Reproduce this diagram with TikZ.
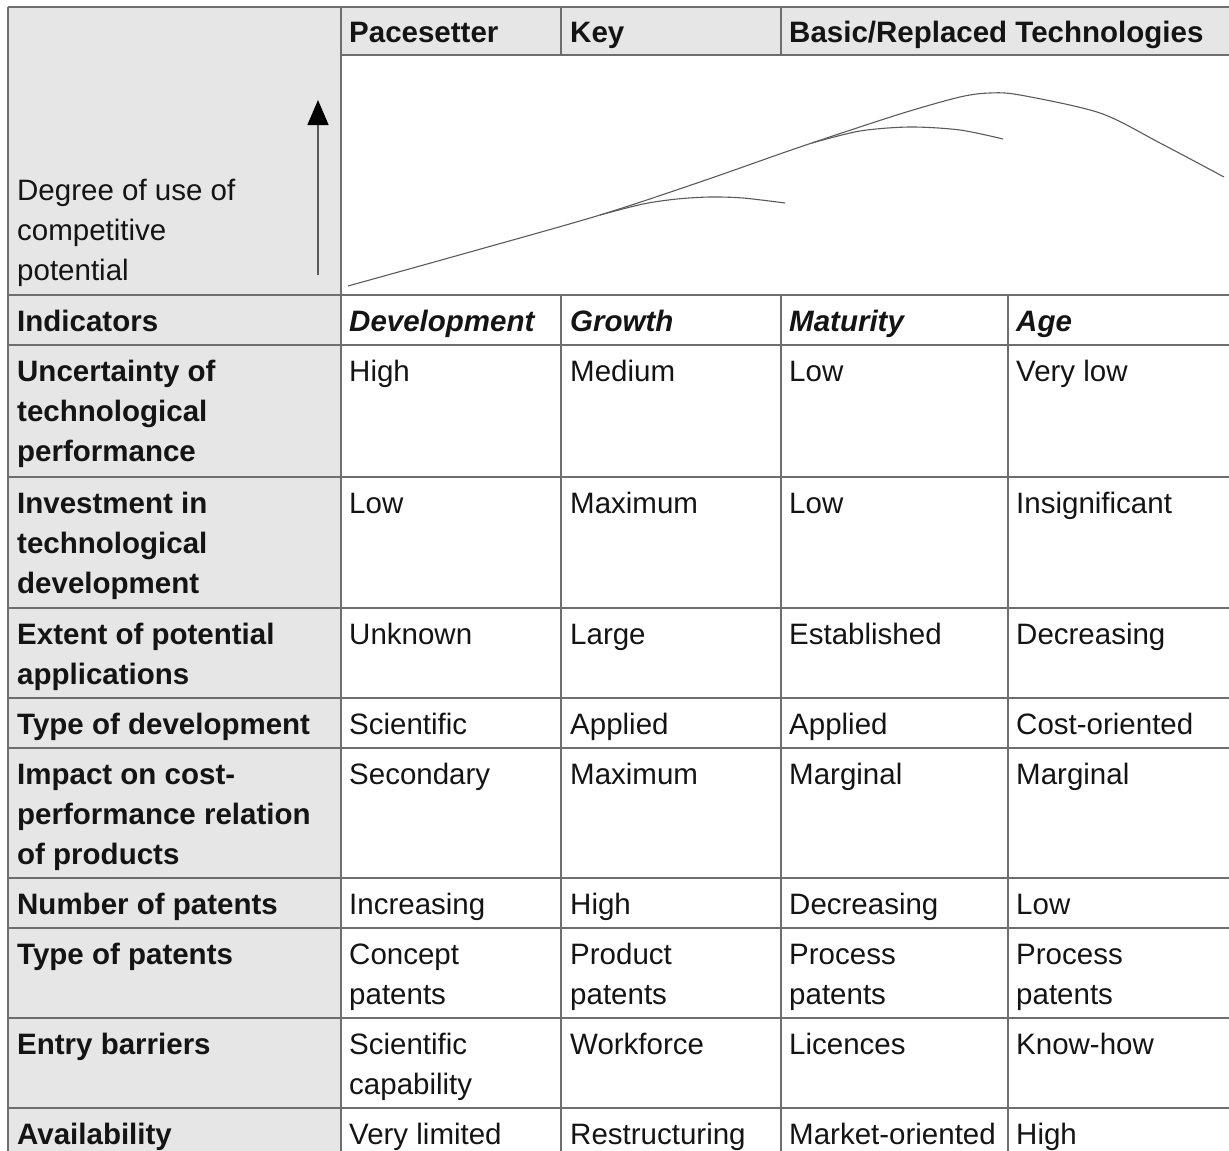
\documentclass[tikz,border=0pt]{standalone}
\usepackage{fontspec}
\setmainfont{Liberation Sans}
\usetikzlibrary{arrows.meta}
\definecolor{cellgray}{RGB}{230,230,230}
\definecolor{rulegray}{RGB}{110,110,110}
\definecolor{inkgray}{RGB}{90,90,90}
\definecolor{textink}{RGB}{20,20,20}
\begin{document}
\begin{tikzpicture}[x=1pt, y=-1pt,
  % texts are placed by the baseline of their last line
  txt/.style={anchor=base west, inner sep=0pt, align=left, text=textink,
              font=\fontsize{29.5}{40}\selectfont},
  head/.style={txt, font=\fontsize{29.5}{40}\selectfont\bfseries},
  phase/.style={txt, font=\fontsize{29.5}{40}\selectfont\bfseries\itshape},
  grid/.style={draw=rulegray, line width=1.6pt},
  curve/.style={draw=inkgray, line width=1.1pt},
]
\useasboundingbox (0,0) rectangle (1229,1151);

% shaded areas: indicator column and category header
\fill[cellgray] (8,7) rectangle (341,1160);
\fill[cellgray] (341,7) rectangle (1229,55);

% horizontal rules
\draw[grid] (8,7) -- (1229,7);
\draw[grid] (341,55) -- (1229,55);
\foreach \y in {295,345,477,608,698,748,878,928,1018,1108}
  \draw[grid] (8,\y) -- (1229,\y);

% vertical rules
\draw[grid] (8,7) -- (8,1160);
\draw[grid] (341,7) -- (341,1160);
\draw[grid] (561,7) -- (561,55);
\draw[grid] (781,7) -- (781,55);
\foreach \x in {561,781,1008}
  \draw[grid] (\x,295) -- (\x,1160);

% category header
\node[head] (hPace) at (349,42) {Pacesetter};
\node[head] (hKey)  at (570,42) {Key};
\node[head] (hBase) at (789,42) {Basic/Replaced Technologies};

% axis label and arrow
\node[txt] (axislabel) at (17,280) {Degree of use of\\competitive\\potential};
\coordinate (axisfoot) at (318,275);
\coordinate (axistip) at (318,100);
\draw[draw=inkgray, line width=1.4pt, -{Triangle[width=21pt,length=25pt,color=black]}]
  (axisfoot) -- (axistip);

% life-cycle curves
\draw[curve] plot[smooth, tension=0.5] coordinates {
  (348,286) (470,252) (600,215) (700,182) (800,147) (900,114) (960,97)
  (990,93) (1020,95) (1100,113) (1160,143) (1224,177)};
\draw[curve] plot[smooth, tension=0.5] coordinates {
  (600,215) (643,204) (677,199) (710,197) (743,198) (785,203)};
\draw[curve] plot[smooth, tension=0.5] coordinates {
  (812,143) (860,131) (910,127) (960,130) (1003,139)};

% phase row
\node[head]  (indic) at (17,331)   {Indicators};
\node[phase] (pDev)  at (349,331)  {Development};
\node[phase] (pGro)  at (570,331)  {Growth};
\node[phase] (pMat)  at (789,331)  {Maturity};
\node[phase] (pAge)  at (1016,331) {Age};

% indicator rows
\node[head] (r1) at (17,461) {Uncertainty of\\technological\\performance};
\node[txt] (r1a) at (349,381)  {High};
\node[txt] (r1b) at (570,381)  {Medium};
\node[txt] (r1c) at (789,381)  {Low};
\node[txt] (r1d) at (1016,381) {Very low};

\node[head] (r2) at (17,593) {Investment in\\technological\\development};
\node[txt] (r2a) at (349,513)  {Low};
\node[txt] (r2b) at (570,513)  {Maximum};
\node[txt] (r2c) at (789,513)  {Low};
\node[txt] (r2d) at (1016,513) {Insignificant};

\node[head] (r3) at (17,684) {Extent of potential\\applications};
\node[txt] (r3a) at (349,644)  {Unknown};
\node[txt] (r3b) at (570,644)  {Large};
\node[txt] (r3c) at (789,644)  {Established};
\node[txt] (r3d) at (1016,644) {Decreasing};

\node[head] (r4) at (17,734) {Type of development};
\node[txt] (r4a) at (349,734)  {Scientific};
\node[txt] (r4b) at (570,734)  {Applied};
\node[txt] (r4c) at (789,734)  {Applied};
\node[txt] (r4d) at (1016,734) {Cost-oriented};

\node[head] (r5) at (17,864) {Impact on cost-\\performance relation\\of products};
\node[txt] (r5a) at (349,784)  {Secondary};
\node[txt] (r5b) at (570,784)  {Maximum};
\node[txt] (r5c) at (789,784)  {Marginal};
\node[txt] (r5d) at (1016,784) {Marginal};

\node[head] (r6) at (17,914) {Number of patents};
\node[txt] (r6a) at (349,914)  {Increasing};
\node[txt] (r6b) at (570,914)  {High};
\node[txt] (r6c) at (789,914)  {Decreasing};
\node[txt] (r6d) at (1016,914) {Low};

\node[head] (r7) at (17,964) {Type of patents};
\node[txt] (r7a) at (349,1004)  {Concept\\patents};
\node[txt] (r7b) at (570,1004)  {Product\\patents};
\node[txt] (r7c) at (789,1004)  {Process\\patents};
\node[txt] (r7d) at (1016,1004) {Process\\patents};

\node[head] (r8) at (17,1054) {Entry barriers};
\node[txt] (r8a) at (349,1094)  {Scientific\\capability};
\node[txt] (r8b) at (570,1054)  {Workforce};
\node[txt] (r8c) at (789,1054)  {Licences};
\node[txt] (r8d) at (1016,1054) {Know-how};

\node[head] (r9) at (17,1144) {Availability};
\node[txt] (r9a) at (349,1144)  {Very limited};
\node[txt] (r9b) at (570,1144)  {Restructuring};
\node[txt] (r9c) at (789,1144)  {Market-oriented};
\node[txt] (r9d) at (1016,1144) {High};
\end{tikzpicture}
\end{document}
